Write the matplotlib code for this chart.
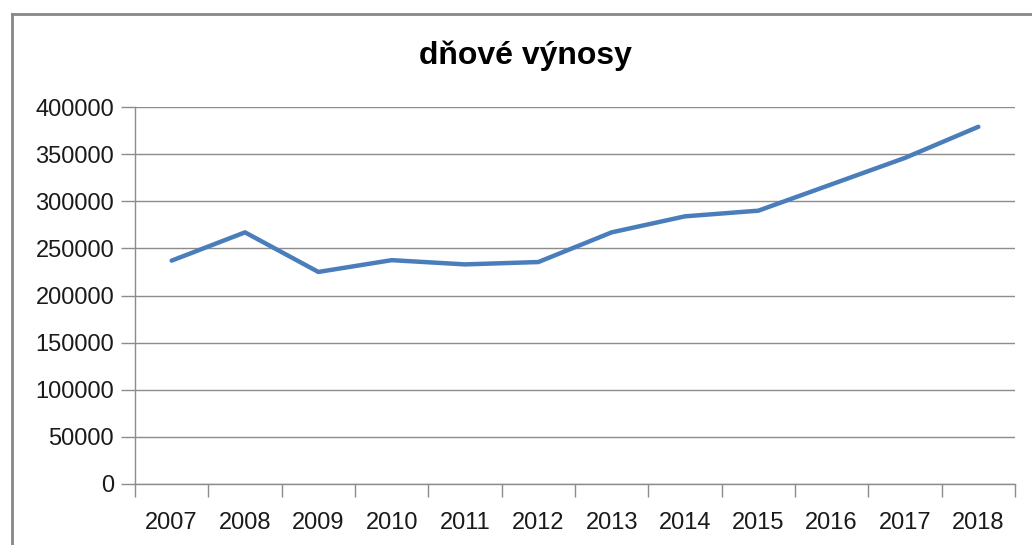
import matplotlib.pyplot as plt
from matplotlib.lines import Line2D

# data
years = ['2007', '2008', '2009', '2010', '2011', '2012',
         '2013', '2014', '2015', '2016', '2017', '2018']
vynosy = [237000, 267000, 225000, 237500, 233000, 235500,
          267000, 284000, 290000, 318000, 346000, 379000]
y_ticks = [0, 50000, 100000, 150000, 200000, 250000, 300000, 350000, 400000]

plt.rcParams['font.family'] = ['Liberation Sans', 'DejaVu Sans']

W, H = 1032, 545
fig = plt.figure(figsize=(W / 100, H / 100), dpi=100)

# plot area in pixels: x 135..1015, y 107..484
ax = fig.add_axes([135 / W, 1 - 484 / H, (1015 - 135) / W, (484 - 107) / H])

x = list(range(len(years)))
ax.plot(x, vynosy, color='#4A7EBB', lw=3.2, solid_capstyle='round', zorder=3)

ax.set_xlim(-0.5, len(years) - 0.5)
ax.set_ylim(0, 400000)
ax.set_yticks(y_ticks)
ax.set_yticklabels([str(v) for v in y_ticks], fontsize=17, color='#1a1a1a')
ax.grid(axis='y', color='#8c8c8c', lw=1)
ax.set_axisbelow(True)

# category axis: labels in the middle, tick marks on the boundaries
ax.set_xticks(x)
ax.set_xticklabels(years, fontsize=17, color='#1a1a1a')
ax.tick_params(axis='x', which='major', length=0, pad=20)
ax.set_xticks([i - 0.5 for i in range(len(years) + 1)], minor=True)
ax.tick_params(axis='x', which='minor', length=9, color='#8c8c8c', width=1)
ax.tick_params(axis='y', length=10, color='#8c8c8c', width=1, pad=5)

for s in ['top', 'right']:
    ax.spines[s].set_visible(False)
for s in ['left', 'bottom']:
    ax.spines[s].set_color('#8c8c8c')
    ax.spines[s].set_linewidth(1)

fig.text(525 / W, 1 - 56 / H, 'dňové výnosy', ha='center', va='center',
         fontsize=23, fontweight='bold', color='black')

# chart frame (only left and top visible in the crop)
fig.add_artist(Line2D([11.5 / W, 11.5 / W], [0, 1 - 14 / H],
                      transform=fig.transFigure, color='#878787', lw=2))
fig.add_artist(Line2D([11.5 / W, 1], [1 - 14 / H, 1 - 14 / H],
                      transform=fig.transFigure, color='#878787', lw=2))

fig.savefig('out.png', dpi=100)
